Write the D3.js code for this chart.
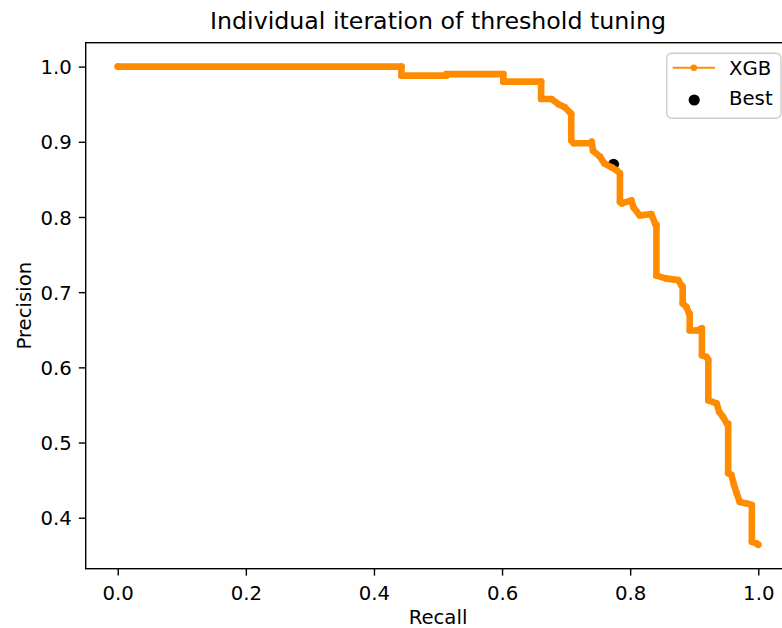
<!DOCTYPE html>
<html>
<head>
<meta charset="utf-8">
<script src="https://cdn.jsdelivr.net/npm/d3@7"></script>
<style>
  html, body { margin: 0; padding: 0; background: #fff; }
  svg { display: block; }
  text { font-family: "DejaVu Sans", sans-serif; fill: #000; }
</style>
</head>
<body>
<svg id="chart" width="782" height="628"></svg>
<script>
// Precision-recall curve of one threshold-tuning iteration (XGB model)
const recall = [
  0.000, 0.443, 0.443, 0.513, 0.513, 0.602, 0.602, 0.661, 0.661, 0.677,
  0.688, 0.698, 0.706, 0.708, 0.708, 0.712, 0.737, 0.740, 0.742, 0.753,
  0.760, 0.771, 0.779, 0.784, 0.784, 0.787, 0.802, 0.805, 0.815, 0.833,
  0.839, 0.841, 0.841, 0.857, 0.875, 0.880, 0.882, 0.882, 0.888, 0.892,
  0.893, 0.893, 0.904, 0.912, 0.912, 0.919, 0.922, 0.922, 0.935, 0.939,
  0.945, 0.951, 0.953, 0.953, 0.958, 0.962, 0.966, 0.971, 0.982, 0.990,
  0.990, 0.997, 1.000
];
const precision = [
  1.000, 1.000, 0.988, 0.988, 0.990, 0.990, 0.980, 0.980, 0.957, 0.957,
  0.950, 0.946, 0.939, 0.937, 0.902, 0.898, 0.898, 0.900, 0.888, 0.880,
  0.871, 0.866, 0.862, 0.858, 0.820, 0.818, 0.822, 0.813, 0.802, 0.804,
  0.791, 0.790, 0.722, 0.718, 0.716, 0.709, 0.707, 0.685, 0.680, 0.672,
  0.671, 0.649, 0.649, 0.652, 0.616, 0.614, 0.610, 0.556, 0.552, 0.541,
  0.534, 0.525, 0.525, 0.459, 0.457, 0.444, 0.433, 0.421, 0.419, 0.417,
  0.368, 0.366, 0.364
];
const bestRecall = [0.774];
const bestPrecision = [0.870];

const xTicks = [0.0, 0.2, 0.4, 0.6, 0.8, 1.0];
const yTicks = [0.4, 0.5, 0.6, 0.7, 0.8, 0.9, 1.0];

const seriesName = "XGB";
const bestName = "Best";
const titleText = "Individual iteration of threshold tuning";
const xLabel = "Recall";
const yLabel = "Precision";

const orange = "#ff8c00";
const fontPx = 19.7;

const svg = d3.select("#chart");
const margin = { left: 85.7, top: 42.7 };
const plotW = 704.6, plotH = 526;

// 5% padding on each side of the data range
const xExt = d3.extent(recall), yExt = d3.extent(precision);
const xPad = (xExt[1] - xExt[0]) * 0.05, yPad = (yExt[1] - yExt[0]) * 0.05;
const x = d3.scaleLinear().domain([xExt[0] - xPad, xExt[1] + xPad])
  .range([margin.left, margin.left + plotW]);
const y = d3.scaleLinear().domain([yExt[0] - yPad, yExt[1] + yPad])
  .range([margin.top + plotH, margin.top]);

const pts = recall.map((r, i) => [r, precision[i]]);

// best threshold point sits beneath the curve
svg.append("g").selectAll("circle")
  .data(bestRecall.map((r, i) => [r, bestPrecision[i]]))
  .join("circle")
  .attr("cx", d => x(d[0])).attr("cy", d => y(d[1]))
  .attr("r", 5.6).attr("fill", "#000");

const line = d3.line().x(d => x(d[0])).y(d => y(d[1]));

// dense dot markers give the curve its heavy look
svg.append("path")
  .attr("d", line(pts))
  .attr("fill", "none")
  .attr("stroke", orange)
  .attr("stroke-width", 6.6)
  .attr("stroke-linejoin", "round")
  .attr("stroke-linecap", "round");

svg.append("g").selectAll("circle")
  .data(pts).join("circle")
  .attr("cx", d => x(d[0])).attr("cy", d => y(d[1]))
  .attr("r", 3.3).attr("fill", orange);

// axes
const xAxis = d3.axisBottom(x).tickValues(xTicks).tickFormat(d3.format(".1f"))
  .tickSize(6.9).tickPadding(6.9);
const yAxis = d3.axisLeft(y).tickValues(yTicks).tickFormat(d3.format(".1f"))
  .tickSize(6.9).tickPadding(6.9);

const gx = svg.append("g").attr("transform", `translate(0,${margin.top + plotH})`).call(xAxis);
const gy = svg.append("g").attr("transform", `translate(${margin.left},0)`).call(yAxis);
[gx, gy].forEach(g => {
  g.select(".domain").remove();
  g.selectAll(".tick line").attr("stroke", "#000").attr("stroke-width", 1.4);
  g.selectAll(".tick text").attr("font-size", fontPx)
    .attr("font-family", "DejaVu Sans, sans-serif").attr("fill", "#000");
});
gx.selectAll(".tick text").attr("dy", null).attr("y", 31.5);
gy.selectAll(".tick text").attr("dy", "0.36em");

// spines
svg.append("rect")
  .attr("x", margin.left).attr("y", margin.top)
  .attr("width", plotW).attr("height", plotH)
  .attr("fill", "none").attr("stroke", "#000").attr("stroke-width", 1.4);

// labels
svg.append("text").attr("x", margin.left + plotW / 2).attr("y", 28.5)
  .attr("text-anchor", "middle").attr("font-size", 23.7).text(titleText);
svg.append("text").attr("x", margin.left + plotW / 2).attr("y", 623.7)
  .attr("text-anchor", "middle").attr("font-size", fontPx).text(xLabel);
svg.append("text")
  .attr("transform", `translate(30.5,${margin.top + plotH / 2}) rotate(-90)`)
  .attr("text-anchor", "middle").attr("font-size", fontPx).text(yLabel);

// legend
const lg = svg.append("g");
lg.append("rect").attr("x", 666.7).attr("y", 53.3).attr("width", 114.3).attr("height", 65)
  .attr("rx", 5).attr("fill", "#fff").attr("fill-opacity", 0.8)
  .attr("stroke", "#cccccc").attr("stroke-width", 1.4);
lg.append("line").attr("x1", 672.7).attr("x2", 715).attr("y1", 67.7).attr("y2", 67.7)
  .attr("stroke", orange).attr("stroke-width", 2.1);
lg.append("circle").attr("cx", 693.8).attr("cy", 67.7).attr("r", 3.3).attr("fill", orange);
lg.append("text").attr("x", 729).attr("y", 75.3).attr("font-size", fontPx).text(seriesName);
lg.append("circle").attr("cx", 694.2).attr("cy", 100).attr("r", 5.6).attr("fill", "#000");
lg.append("text").attr("x", 729).attr("y", 105.3).attr("font-size", fontPx).text(bestName);
</script>
</body>
</html>
